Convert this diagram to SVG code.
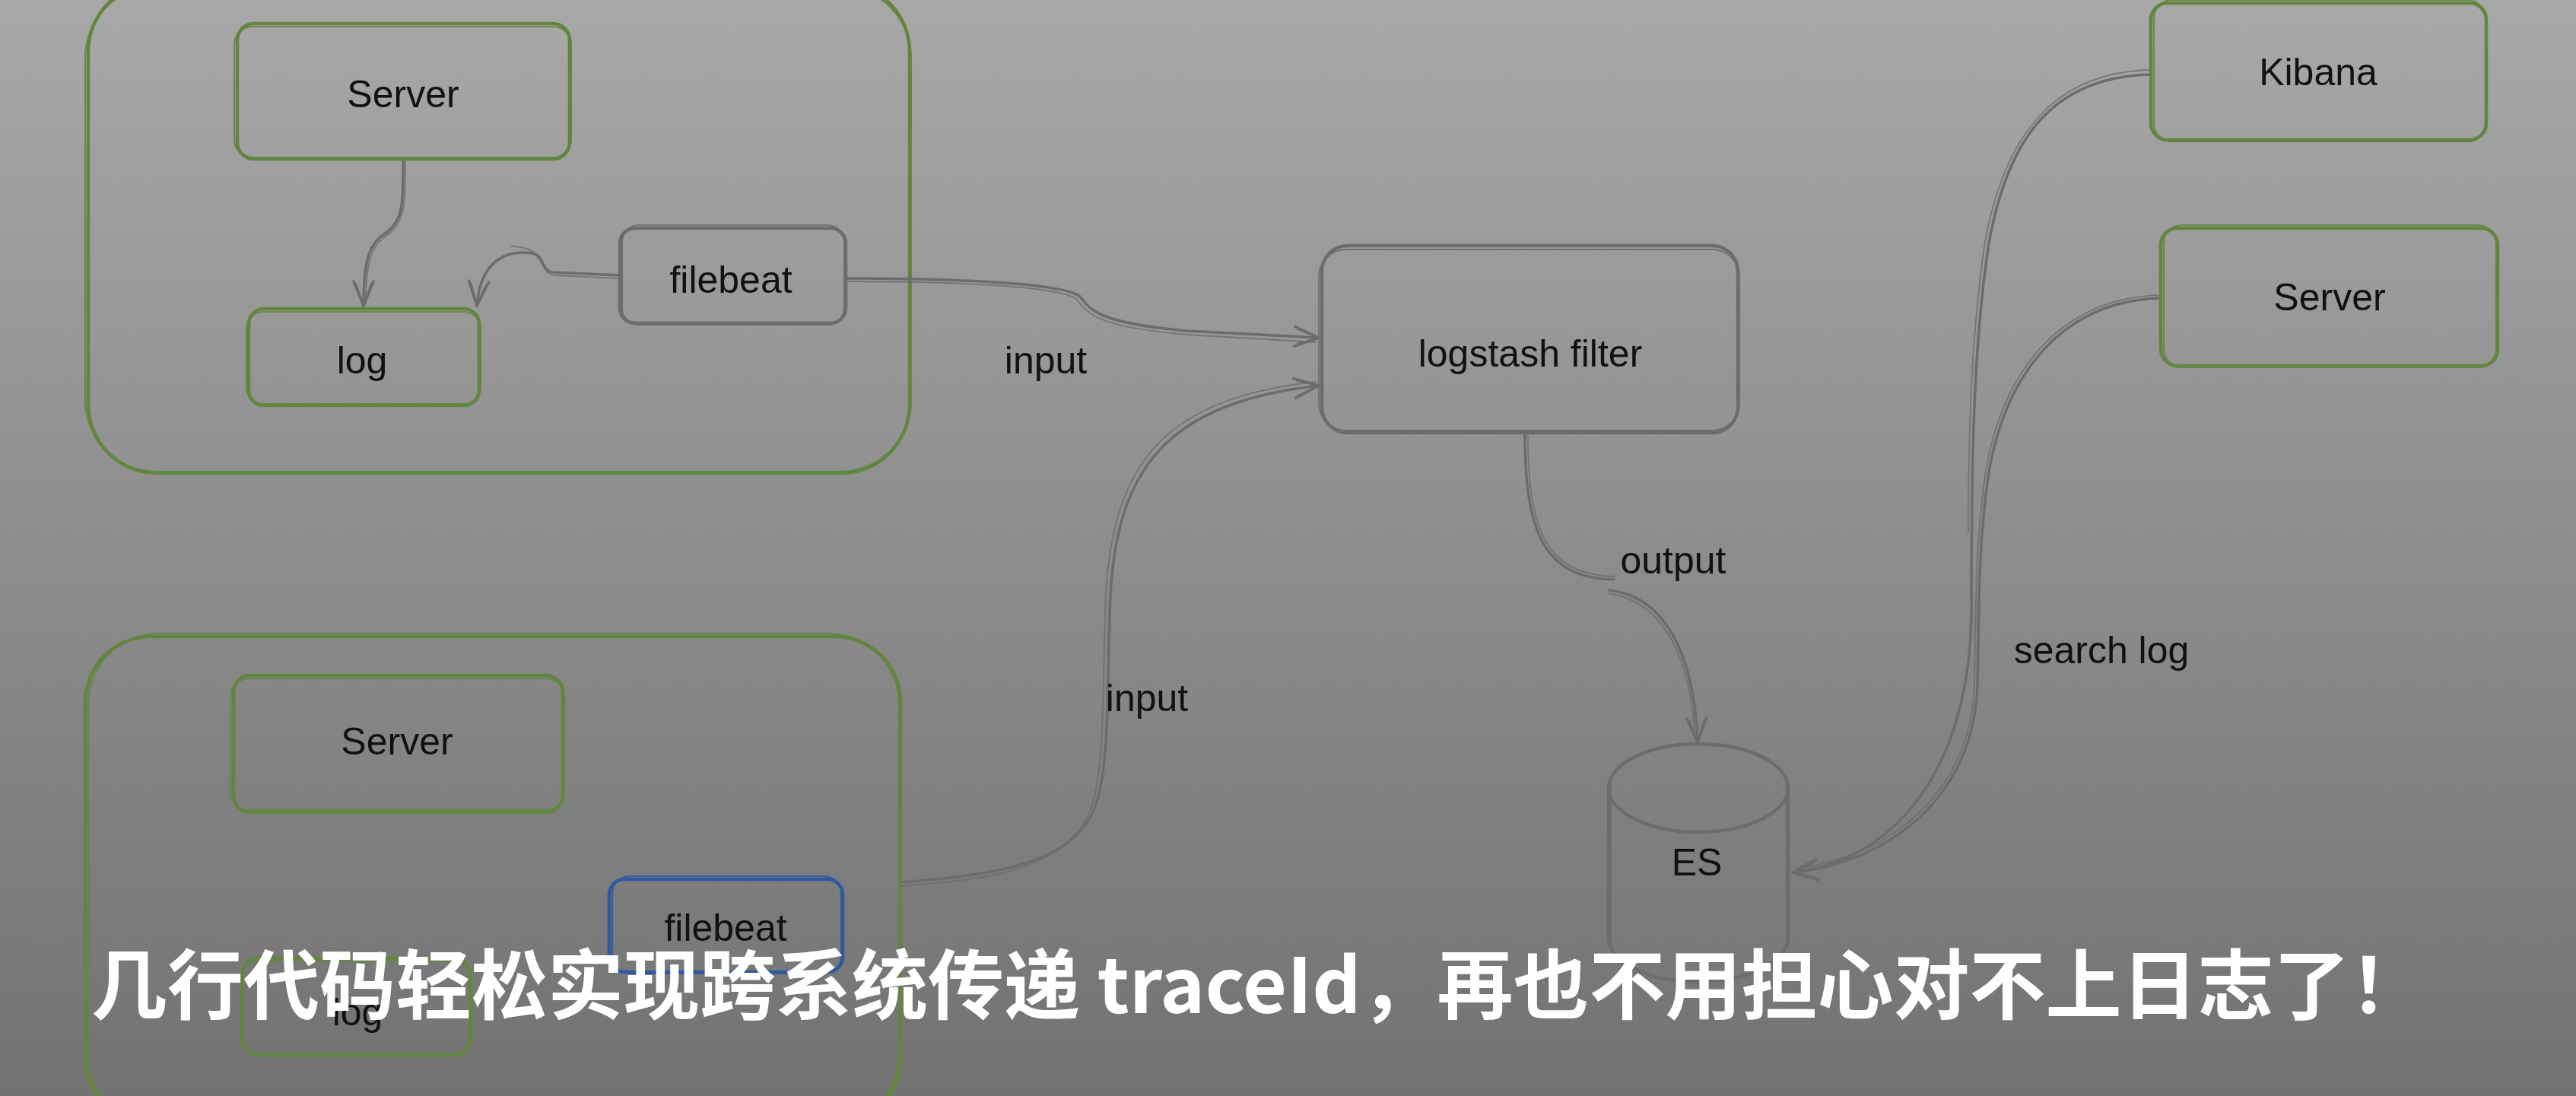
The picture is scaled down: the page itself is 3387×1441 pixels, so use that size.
<svg xmlns="http://www.w3.org/2000/svg" width="3387" height="1441" viewBox="0 0 3387 1441">
<defs>
<linearGradient id="bg" x1="0" y1="0" x2="0" y2="1">
<stop offset="0" stop-color="#a8a8a8"/>
<stop offset="1" stop-color="#727272"/>
</linearGradient>
<marker id="ah" viewBox="0 0 36 32" refX="34" refY="16" markerWidth="36" markerHeight="32" markerUnits="userSpaceOnUse" orient="auto">
<path d="M2,3 L34,16 L2,29" fill="none" stroke="#6c6c6c" stroke-width="3.5" stroke-linejoin="round" stroke-linecap="round"/>
<path d="M5,6 L33,16 L5,26" fill="none" stroke="#6c6c6c" stroke-width="2"/>
</marker>
<style>
.g{fill:none;stroke:#62863f;stroke-width:4.5}
.g2{fill:none;stroke:#62863f;stroke-width:2.2;opacity:.85}
.k{fill:none;stroke:#6c6c6c;stroke-width:4.5}
.k2{fill:none;stroke:#6c6c6c;stroke-width:2.2;opacity:.85}
.b{fill:none;stroke:#2d5a9e;stroke-width:4.5}
.b2{fill:none;stroke:#2d5a9e;stroke-width:2.2;opacity:.85}
.c{fill:none;stroke:#6c6c6c;stroke-width:3.5;stroke-linecap:round}
.c2{fill:none;stroke:#6c6c6c;stroke-width:1.8;opacity:.8}
.t{font-family:"Liberation Sans",Arial,sans-serif;font-size:50px;fill:#111;text-anchor:middle}
.cap{font-family:"Noto Sans CJK SC","Noto Sans",sans-serif;font-size:100px;font-weight:700;fill:#ffffff}
</style>
</defs>
<rect x="0" y="0" width="3387" height="1441" fill="url(#bg)"/>

<g id="group-top">
<rect class="g" x="116" y="-22" width="1080" height="644" rx="90"/>
<rect class="g2" x="112" y="-18" width="1086" height="638" rx="94"/>
</g>
<g id="group-bottom">
<rect class="g" x="112" y="837" width="1072" height="640" rx="86"/>
<rect class="g2" x="116" y="833" width="1066" height="646" rx="92"/>
</g>

<g id="connectors">
<path class="c" d="M530,210 C530,262 532,290 506,307 C486,320 478,340 478,402" marker-end="url(#ah)"/>
<path class="c2" d="M533,212 C533,262 534,292 509,309 C489,322 481,342 481,400"/>
<path class="c" d="M815,362 L726,358 C712,357 716,336 700,333 C668,328 632,340 627,402" marker-end="url(#ah)"/>
<path class="c2" d="M815,366 L728,362 C714,360 712,338 700,330 C690,325 682,324 672,324"/>
<path class="c" d="M1112,366 C1250,366 1400,372 1420,390 C1435,410 1450,425 1560,435 L1734,444" marker-end="url(#ah)"/>
<path class="c2" d="M1112,370 C1250,370 1398,376 1416,394 C1432,416 1450,430 1560,440 L1730,450"/>
<path class="c" d="M1185,1160 C1300,1150 1410,1140 1440,1060 C1460,1005 1455,900 1460,780 C1470,620 1530,530 1734,507" marker-end="url(#ah)"/>
<path class="c2" d="M1185,1165 C1300,1156 1404,1144 1434,1064 C1454,1008 1449,900 1454,780 C1464,615 1525,524 1730,502"/>
<path class="c" d="M2005,570 C2005,700 2030,760 2122,762 M2116,776 C2195,785 2228,870 2232,976" marker-end="url(#ah)"/>
<path class="c2" d="M2009,572 C2009,700 2034,756 2124,758 M2114,780 C2190,790 2224,870 2228,970"/>
<path class="c" d="M2829,98 C2700,100 2640,180 2615,320 C2595,450 2592,600 2592,800 C2592,1000 2500,1130 2357,1147" marker-end="url(#ah)"/>
<path class="c2" d="M2829,92 C2702,94 2636,176 2610,318 C2590,450 2588,600 2588,700"/>
<path class="c" d="M2841,392 C2720,395 2640,480 2615,620 C2600,720 2602,820 2600,900 C2596,1050 2480,1135 2357,1147" marker-end="url(#ah)"/>
<path class="c2" d="M2841,388 C2718,391 2636,476 2611,618 C2596,720 2598,820 2596,900 C2592,1045 2480,1128 2360,1142"/>
<text class="t" x="1375" y="491">input</text>
<text class="t" x="1508" y="935">input</text>
<text class="t" x="2200" y="754">output</text>
<text class="t" x="2763" y="872">search log</text>
</g>

<g id="server-top">
<rect class="g" x="312" y="31" width="437" height="178" rx="22"/>
<rect class="g2" x="308" y="35" width="443" height="172" rx="24"/>
<text class="t" x="530" y="141">Server</text>
</g>
<g id="log-top">
<rect class="g" x="327" y="406" width="303" height="127" rx="20"/>
<rect class="g2" x="324" y="410" width="308" height="121" rx="22"/>
<text class="t" x="476" y="491">log</text>
</g>
<g id="filebeat-top">
<rect class="k" x="815" y="300" width="297" height="125" rx="20"/>
<rect class="k2" x="818" y="296" width="292" height="131" rx="22"/>
<text class="t" x="961" y="385">filebeat</text>
</g>
<g id="server-bottom">
<rect class="g" x="307" y="888" width="433" height="180" rx="22"/>
<rect class="g2" x="303" y="892" width="439" height="173" rx="24"/>
<text class="t" x="522" y="992">Server</text>
</g>
<g id="log-bottom">
<rect class="g" x="319" y="1260" width="299" height="127" rx="20"/>
<rect class="g2" x="316" y="1264" width="304" height="121" rx="22"/>
<text class="t" x="470" y="1348">log</text>
</g>
<g id="filebeat-bottom">
<rect class="b" x="801" y="1156" width="307" height="122" rx="20"/>
<rect class="b2" x="805" y="1152" width="301" height="128" rx="22"/>
<text class="t" x="954" y="1237">filebeat</text>
</g>
<g id="logstash">
<rect class="k" x="1738" y="323" width="547" height="246" rx="34"/>
<rect class="k2" x="1734" y="328" width="553" height="238" rx="36"/>
<text class="t" x="2012" y="482">logstash filter</text>
</g>
<g id="es">
<ellipse class="k" cx="2233" cy="1036" rx="118" ry="58"/>
<path class="k" d="M2115,1036 V1233 A118,58 0 0 0 2351,1233 V1036"/>
<path class="k2" d="M2118,1030 V1240 M2349,1030 V1240"/>
<text class="t" x="2231" y="1151">ES</text>
</g>
<g id="kibana">
<rect class="g" x="2828" y="4" width="441" height="180" rx="22"/>
<rect class="g2" x="2832" y="0" width="436" height="186" rx="24"/>
<text class="t" x="3048" y="112">Kibana</text>
</g>
<g id="server-right">
<rect class="g" x="2841" y="300" width="443" height="181" rx="22"/>
<rect class="g2" x="2845" y="296" width="437" height="187" rx="24"/>
<text class="t" x="3063" y="408">Server</text>
</g>

<text class="cap" x="120" y="1332">几行代码轻松实现跨系统传递 traceId，再也不用担心对不上日志了！</text>
</svg>
